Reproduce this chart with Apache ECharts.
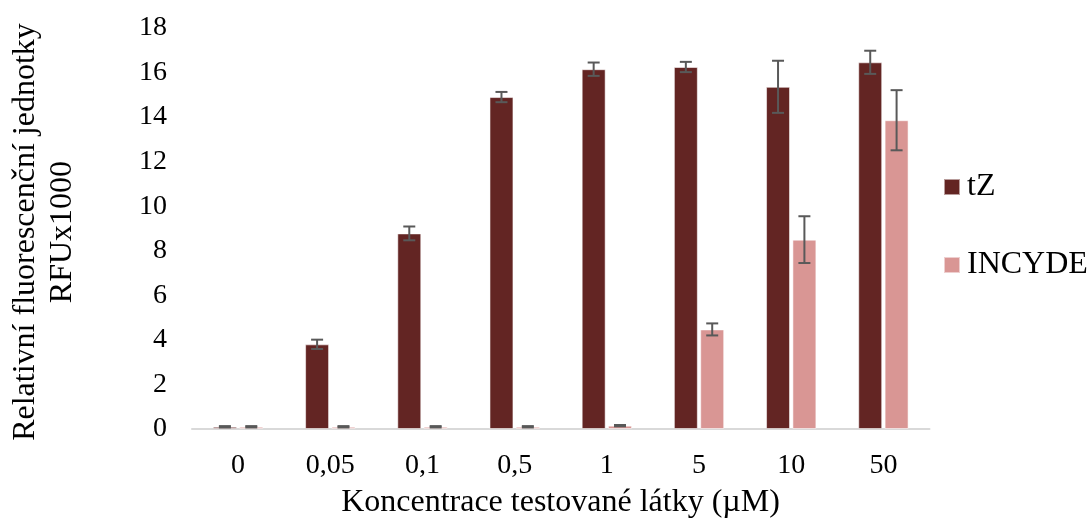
<!DOCTYPE html>
<html>
<head>
<meta charset="utf-8">
<script src="https://cdn.jsdelivr.net/npm/echarts@6/dist/echarts.min.js"></script>
<style>
  html, body { margin: 0; padding: 0; background: #ffffff; }
  #chart { width: 1089px; height: 521px; }
</style>
</head>
<body>
<div id="chart"></div>
<script>
// Concentrations of the tested compound (µM)
const categories = ['0', '0,05', '0,1', '0,5', '1', '5', '10', '50'];

// Mean relative fluorescence (RFU x 1000) and standard deviations
const tZValues = [0.1, 3.8, 8.78, 14.9, 16.15, 16.25, 15.36, 16.46];
const tZErrors = [0.03, 0.21, 0.31, 0.23, 0.3, 0.23, 1.17, 0.52];
const incydeValues = [0.1, 0.1, 0.1, 0.1, 0.15, 4.47, 8.5, 13.86];
const incydeErrors = [0.03, 0.03, 0.03, 0.03, 0.03, 0.27, 1.05, 1.35];

const yTicks = { min: 0, max: 18, interval: 2 };

const FONT = '"Liberation Serif", "Times New Roman", serif';
const BAR_FRACTION = 0.26;   // bar width as share of the category band
const GAP_FRACTION = 0.1;    // gap between the two bars, share of bar width

function errorBarRenderer(side) {
  return function (params, api) {
    const idx = api.value(0);
    const mean = api.value(1);
    const err = api.value(2);
    const band = api.size([1, 0])[0];
    const barW = band * BAR_FRACTION;
    const offset = side * (barW + barW * GAP_FRACTION) / 2;
    const top = api.coord([idx, mean + err]);
    const bottom = api.coord([idx, mean - err]);
    const x = top[0] + offset;
    const cap = 6;
    const style = { stroke: '#595959', lineWidth: 2 };
    return {
      type: 'group',
      children: [
        { type: 'line', shape: { x1: x, y1: top[1], x2: x, y2: bottom[1] }, style },
        { type: 'line', shape: { x1: x - cap, y1: top[1], x2: x + cap, y2: top[1] }, style },
        { type: 'line', shape: { x1: x - cap, y1: bottom[1], x2: x + cap, y2: bottom[1] }, style }
      ]
    };
  };
}

const chart = echarts.init(document.getElementById('chart'), null, { renderer: 'canvas' });

chart.setOption({
  animation: false,
  backgroundColor: '#ffffff',
  textStyle: { fontFamily: FONT, color: '#000000' },
  grid: { left: 192, right: 159.5, top: 28, bottom: 92 },
  legend: {
    orient: 'vertical',
    left: 943,
    top: 171,
    padding: 0,
    itemWidth: 16,
    itemHeight: 16,
    itemGap: 46,
    icon: 'rect',
    data: ['tZ', 'INCYDE'],
    textStyle: { fontFamily: FONT, fontSize: 32, color: '#000000', padding: [0, 0, 0, 2] }
  },
  xAxis: {
    type: 'category',
    data: categories,
    axisLine: { lineStyle: { color: '#D9D9D9', width: 2 } },
    axisTick: { show: false },
    axisLabel: { fontFamily: FONT, fontSize: 28, color: '#000000', margin: 23 }
  },
  yAxis: {
    type: 'value',
    min: yTicks.min,
    max: yTicks.max,
    interval: yTicks.interval,
    axisLine: { show: false },
    axisTick: { show: false },
    splitLine: { show: false },
    axisLabel: { fontFamily: FONT, fontSize: 28, color: '#000000', margin: 25 }
  },
  graphic: [
    {
      type: 'text',
      x: 44,
      y: 232,
      rotation: Math.PI / 2,
      style: {
        text: 'Relativní fluorescenční jednotky\nRFUx1000',
        font: '32px ' + FONT,
        fill: '#000000',
        align: 'center',
        verticalAlign: 'middle',
        lineHeight: 37
      }
    },
    {
      type: 'text',
      x: 560.5,
      y: 503,
      style: {
        text: 'Koncentrace testované látky (µM)',
        font: '32px ' + FONT,
        fill: '#000000',
        align: 'center',
        verticalAlign: 'middle'
      }
    }
  ],
  series: [
    {
      name: 'tZ',
      type: 'bar',
      data: tZValues,
      barWidth: (BAR_FRACTION * 100) + '%',
      barGap: (GAP_FRACTION * 100) + '%',
      itemStyle: { color: '#632523', borderColor: 'rgba(255,255,255,0.55)', borderWidth: 1 }
    },
    {
      name: 'INCYDE',
      type: 'bar',
      data: incydeValues,
      barWidth: (BAR_FRACTION * 100) + '%',
      barGap: (GAP_FRACTION * 100) + '%',
      itemStyle: { color: '#D99694', borderColor: 'rgba(255,255,255,0.55)', borderWidth: 1 }
    },
    {
      name: 'tZ SD',
      type: 'custom',
      renderItem: errorBarRenderer(-1),
      data: tZValues.map((v, i) => [i, v, tZErrors[i]]),
      encode: { x: 0, y: 1 },
      z: 10,
      silent: true
    },
    {
      name: 'INCYDE SD',
      type: 'custom',
      renderItem: errorBarRenderer(1),
      data: incydeValues.map((v, i) => [i, v, incydeErrors[i]]),
      encode: { x: 0, y: 1 },
      z: 10,
      silent: true
    }
  ]
});
</script>
</body>
</html>
